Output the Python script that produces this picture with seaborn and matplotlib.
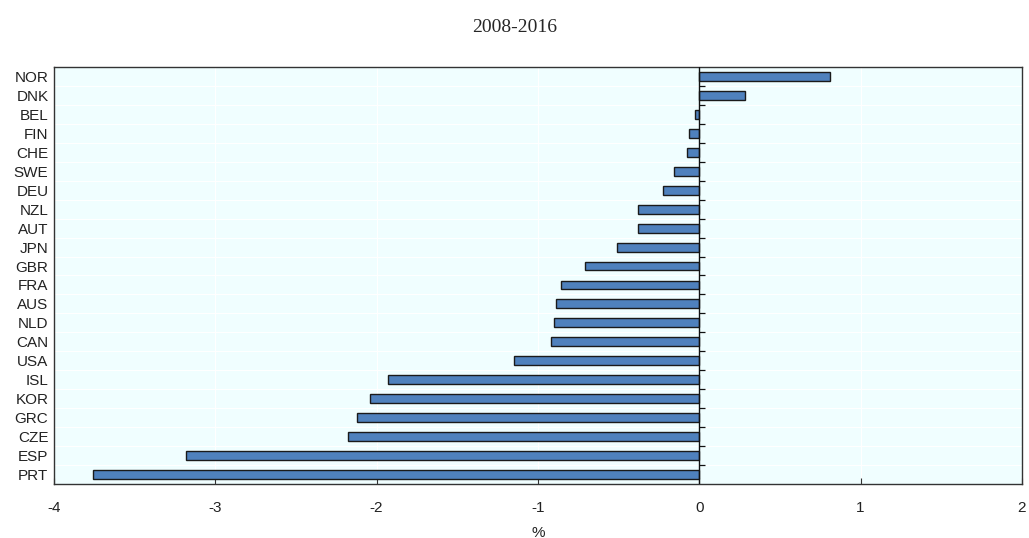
import numpy as np
import pandas as pd
import seaborn as sns
import matplotlib.pyplot as plt

# country codes, top to bottom
countries = ["NOR", "DNK", "BEL", "FIN", "CHE", "SWE", "DEU", "NZL", "AUT", "JPN", "GBR",
             "FRA", "AUS", "NLD", "CAN", "USA", "ISL", "KOR", "GRC", "CZE", "ESP", "PRT"]
# change over 2008-2016, %
values = [0.81, 0.285, -0.025, -0.065, -0.075, -0.155, -0.225, -0.38, -0.38, -0.51, -0.71,
          -0.855, -0.89, -0.90, -0.92, -1.15, -1.93, -2.04, -2.12, -2.18, -3.18, -3.76]
x_ticks = [-4, -3, -2, -1, 0, 1, 2]

df = pd.DataFrame({"country": countries, "value": values})

sns.set_style("white")
plt.rcParams["font.family"] = ["Liberation Sans", "DejaVu Sans"]

fig = plt.figure(figsize=(10.29, 5.38), dpi=100)
ax = fig.add_axes([0.0525, 0.1004, 0.9405, 0.7751])
ax.set_facecolor("#F0FEFF")

sns.barplot(data=df, x="value", y="country", orient="h", order=countries,
            color="#4F81BD", edgecolor="#1A1A1A", linewidth=1.0, width=0.47,
            saturation=1, ax=ax)

n = len(countries)
ax.set_xlim(-4, 2)
ax.set_ylim(n - 0.5, -0.5)

# faint white grid
for xv in x_ticks:
    ax.axvline(xv, color="white", lw=0.8, zorder=0)
bounds = np.arange(n - 1) + 0.5
for yv in bounds:
    ax.axhline(yv, color="white", lw=0.8, zorder=0)

# zero line with category ticks
ax.axvline(0, color="#111111", lw=1.0, zorder=3)
ax.hlines(bounds, 0, 0.035, color="#111111", lw=0.9, zorder=3)

ax.set_xticks(x_ticks)
ax.set_xticklabels([str(t) for t in x_ticks], fontsize=11, color="#222222")
ax.tick_params(axis="x", direction="in", length=4, width=0.8, color="#333333",
               pad=12, bottom=True)
ax.tick_params(axis="y", length=0, pad=4, labelsize=11, labelcolor="#222222")
ax.set_xlabel("%", fontsize=11, color="#222222", labelpad=8)
ax.set_ylabel("")

for s in ax.spines.values():
    s.set_visible(True)
    s.set_color("#333333")
    s.set_linewidth(1.0)

fig.text(0.5, 0.948, "2008-2016", ha="center", va="center",
         fontsize=14, family=["Liberation Serif", "DejaVu Serif"])

fig.savefig("out.png", dpi=100)
